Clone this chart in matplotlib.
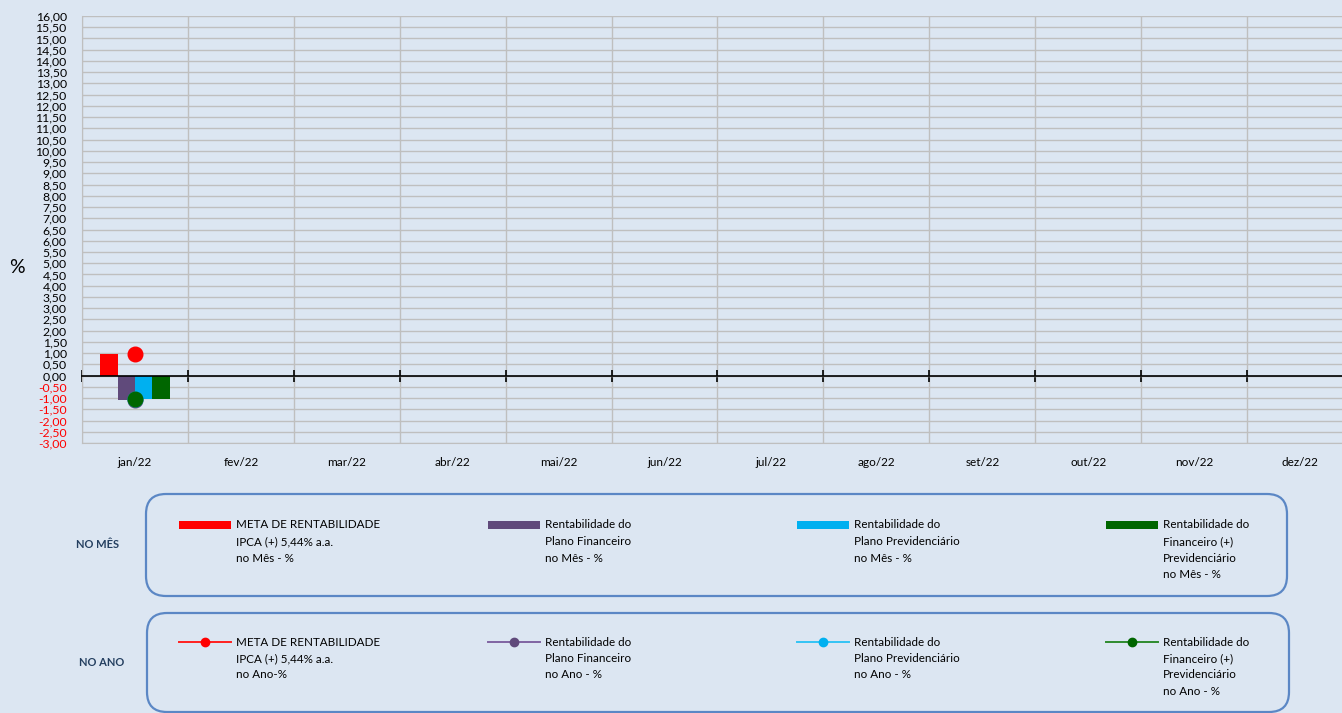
import matplotlib
matplotlib.use('Agg')
import matplotlib.pyplot as plt
import numpy as np
from matplotlib.patches import FancyBboxPatch, Rectangle
from matplotlib.lines import Line2D
from matplotlib.ticker import MultipleLocator, FixedLocator

plt.rcParams['font.family'] = ['Lato', 'DejaVu Sans']

nan = float('nan')
months = ['jan/22', 'fev/22', 'mar/22', 'abr/22', 'mai/22', 'jun/22',
          'jul/22', 'ago/22', 'set/22', 'out/22', 'nov/22', 'dez/22']

# Monthly (bars)
meta_mes = [0.98, nan, nan, nan, nan, nan, nan, nan, nan, nan, nan, nan]
fin_mes = [-1.07, nan, nan, nan, nan, nan, nan, nan, nan, nan, nan, nan]
prev_mes = [-1.03, nan, nan, nan, nan, nan, nan, nan, nan, nan, nan, nan]
tot_mes = [-1.06, nan, nan, nan, nan, nan, nan, nan, nan, nan, nan, nan]

# Accumulated in the year (lines)
meta_ano = [0.98, nan, nan, nan, nan, nan, nan, nan, nan, nan, nan, nan]
fin_ano = [-1.07, nan, nan, nan, nan, nan, nan, nan, nan, nan, nan, nan]
prev_ano = [-1.03, nan, nan, nan, nan, nan, nan, nan, nan, nan, nan, nan]
tot_ano = [-1.06, nan, nan, nan, nan, nan, nan, nan, nan, nan, nan, nan]

labels_mes = ["META DE RENTABILIDADE\nIPCA (+) 5,44% a.a.\nno Mês - %",
              "Rentabilidade do\nPlano Financeiro\nno Mês - %",
              "Rentabilidade do\nPlano Previdenciário\nno Mês - %",
              "Rentabilidade do\nFinanceiro (+)\nPrevidenciário\nno Mês - %"]
labels_ano = ["META DE RENTABILIDADE\nIPCA (+) 5,44% a.a.\nno Ano-%",
              "Rentabilidade do\nPlano Financeiro\nno Ano - %",
              "Rentabilidade do\nPlano Previdenciário\nno Ano - %",
              "Rentabilidade do\nFinanceiro (+)\nPrevidenciário\nno Ano - %"]

bar_colors = ['#ff0000', '#604a7b', '#00b0f0', '#006600']
line_colors = ['#ff2020', '#8064a2', '#33c4f5', '#2e8b2e']
marker_colors = ['#ff0000', '#604a7b', '#00b0f0', '#006600']

BG = '#dce6f2'
W, H = 1342, 713
fig = plt.figure(figsize=(W / 100, H / 100), dpi=100, facecolor=BG)

ax = fig.add_axes([82 / W, (H - 443) / H, (1353 - 82) / W, (443 - 16) / H])
ax.set_facecolor(BG)

x = np.arange(len(months))
bw = 0.164
offsets = [-1.5, -0.5, 0.5, 1.5]
for s, off, c in zip([meta_mes, fin_mes, prev_mes, tot_mes], offsets, bar_colors):
    ax.bar(x + off * bw, s, width=bw, color=c, zorder=2)

for s, lc, mc in zip([meta_ano, fin_ano, prev_ano, tot_ano], line_colors, marker_colors):
    ax.plot(x, s, color=lc, lw=1.5, marker='o', ms=10.5,
            markerfacecolor=mc, markeredgecolor=mc, zorder=3)

ax.set_xlim(-0.5, 11.5)
ax.set_ylim(-3, 16)
ax.yaxis.set_major_locator(MultipleLocator(0.5))
ax.set_xticks(x)
ax.set_xticklabels(months)
ax.xaxis.set_minor_locator(FixedLocator(np.arange(-0.5, 12.0, 1.0)))

ax.set_axisbelow(True)
ax.grid(axis='y', which='major', color='#bfbfbf', lw=1.0)
ax.grid(axis='x', which='minor', color='#bfbfbf', lw=1.0)

ax.spines['right'].set_visible(False)
ax.spines['left'].set_color('#bfbfbf')
ax.spines['bottom'].set_color('#bfbfbf')
ax.spines['top'].set_position(('data', 0))
ax.spines['top'].set_color('black')
ax.spines['top'].set_linewidth(1.2)
ax.spines['top'].set_zorder(4)

ax.tick_params(axis='x', which='major', length=0, pad=10, labelsize=8.5, labelcolor='black')
ax.tick_params(axis='x', which='minor', top=True, bottom=False, direction='inout',
               length=9, width=1.2, color='black')
ax.tick_params(axis='y', which='major', length=0, pad=11, labelsize=8.8)

yt = ax.get_yticks()
ax.set_yticks(yt)
ax.set_yticklabels([f"{v:.2f}".replace('.', ',') for v in yt])
for lab, v in zip(ax.get_yticklabels(), yt):
    lab.set_color('#ff0000' if v < 0 else 'black')
ax.set_ylim(-3, 16)

fig.text(17 / W, 1 - 267 / H, '%', fontsize=14, ha='center', va='center')

# Legend boxes (drawn in inch coordinates)
T = fig.dpi_scale_trans

def inch(px, py):
    return px / 100, (H - py) / 100

edge = '#5b87c5'
for (x0, y0, x1, y1) in [(146, 494, 1287, 596), (147, 613, 1289, 712)]:
    bx, by = inch(x0, y1)
    box = FancyBboxPatch((bx, by), (x1 - x0) / 100, (y1 - y0) / 100,
                         boxstyle='round,pad=0,rounding_size=0.2',
                         transform=T, facecolor='none', edgecolor=edge, lw=1.6)
    fig.add_artist(box)

hdr_color = '#243f60'
fig.text(*inch(97.5, 545), 'NO MÊS', transform=T, fontsize=8, fontweight='bold',
         color=hdr_color, ha='center', va='center')
fig.text(*inch(101.5, 663), 'NO ANO', transform=T, fontsize=8, fontweight='bold',
         color=hdr_color, ha='center', va='center')

hx = [179, 488, 797, 1106]
tx = [236, 545, 854, 1163]
line_h = 16.5
fs_leg = 8.4
for i in range(4):
    # bar handle
    rx, ry = inch(hx[i], 529)
    fig.add_artist(Rectangle((rx, ry), 0.52, 0.078, transform=T,
                             facecolor=bar_colors[i], edgecolor='none'))
    for j, ln in enumerate(labels_mes[i].split('\n')):
        fig.text(*inch(tx[i], 525 + j * line_h), ln, transform=T, fontsize=fs_leg,
                 ha='left', va='center', color='black')
    # line handle
    lx0, ly = inch(hx[i], 642)
    lx1, _ = inch(hx[i] + 52, 642)
    fig.add_artist(Line2D([lx0, lx1], [ly, ly], transform=T, color=line_colors[i], lw=1.4))
    mx, _ = inch(hx[i] + 26, 642)
    fig.add_artist(Line2D([mx], [ly], transform=T, marker='o', ms=6,
                          color=marker_colors[i], lw=0))
    for j, ln in enumerate(labels_ano[i].split('\n')):
        fig.text(*inch(tx[i], 642 + j * line_h), ln, transform=T, fontsize=fs_leg,
                 ha='left', va='center', color='black')

fig.savefig('out.png', dpi=100, facecolor=BG)
